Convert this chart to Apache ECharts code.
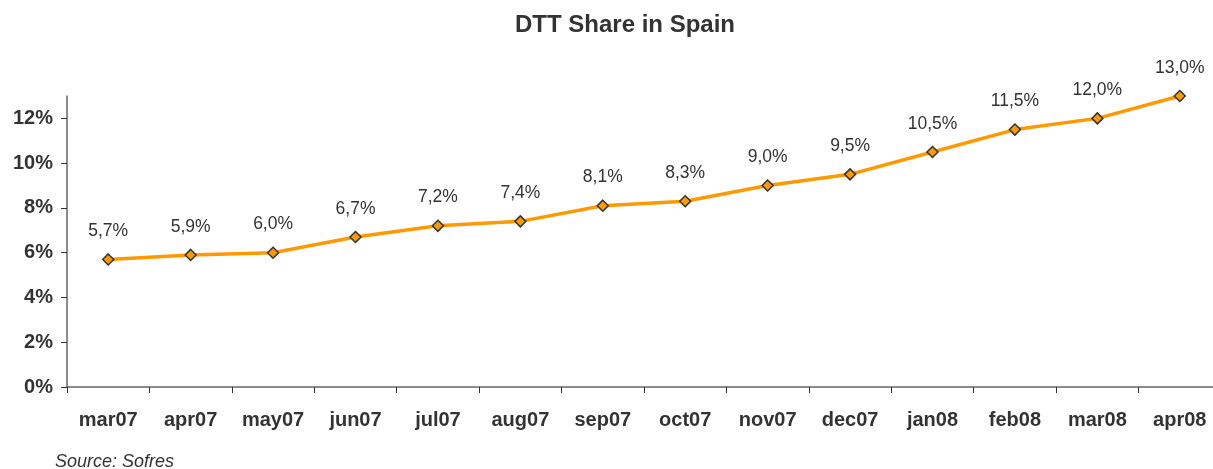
<!DOCTYPE html>
<html>
<head>
<meta charset="utf-8">
<script src="https://cdn.jsdelivr.net/npm/echarts@6/dist/echarts.min.js"></script>
<style>
html,body{margin:0;padding:0;background:#fff;overflow:hidden;width:1213px;height:469px;}
#chart{width:1222px;height:469px;}
</style>
</head>
<body>
<div id="chart"></div>
<script>
const categories = ['mar07','apr07','may07','jun07','jul07','aug07','sep07','oct07','nov07','dec07','jan08','feb08','mar08','apr08'];
const shareValues = [5.7, 5.9, 6.0, 6.7, 7.2, 7.4, 8.1, 8.3, 9.0, 9.5, 10.5, 11.5, 12.0, 13.0];
const yTickValues = [0, 2, 4, 6, 8, 10, 12];

const chart = echarts.init(document.getElementById('chart'));
const font = 'Liberation Sans, Arial, sans-serif';
chart.setOption({
  animation: false,
  backgroundColor: '#fff',
  title: [{
    text: 'DTT Share in Spain',
    left: 620, top: 8, textAlign: 'center',
    textStyle: {fontFamily: font, fontSize: 24, fontWeight: 'bold', color: '#333'}
  }, {
    text: 'Source: Sofres',
    left: 50, top: 448,
    textStyle: {fontFamily: font, fontSize: 18, fontStyle: 'italic', fontWeight: 'normal', color: '#333'}
  }],
  grid: {left: 67, right: 1, top: 96, bottom: 82, containLabel: false},
  xAxis: {
    type: 'category',
    data: categories,
    boundaryGap: true,
    axisLine: {lineStyle: {color: '#666', width: 1.5}},
    axisTick: {show: true, length: 6, lineStyle: {color: '#333'}},
    axisLabel: {fontFamily: font, fontSize: 20, fontWeight: 'bold', color: '#333', margin: 23, interval: 0}
  },
  yAxis: {
    type: 'value',
    min: 0, max: 13, interval: 2,
    splitLine: {show: false},
    axisLine: {show: true, lineStyle: {color: '#666', width: 1.5}},
    axisTick: {show: true, length: 6, lineStyle: {color: '#333'}, customValues: yTickValues},
    axisLabel: {fontFamily: font, fontSize: 20, fontWeight: 'bold', color: '#333', margin: 14,
      customValues: yTickValues, formatter: v => v + '%'}
  },
  series: [{
    type: 'line',
    data: shareValues,
    symbol: 'diamond',
    symbolSize: 11,
    lineStyle: {color: '#FF9900', width: 3.5},
    itemStyle: {color: '#FF9900', borderColor: '#333', borderWidth: 1.5},
    label: {
      show: true, position: 'top', distance: 13,
      fontFamily: font, fontSize: 17.5, color: '#333',
      formatter: p => p.value.toFixed(1).replace('.', ',') + '%'
    }
  }]
});
</script>
</body>
</html>
